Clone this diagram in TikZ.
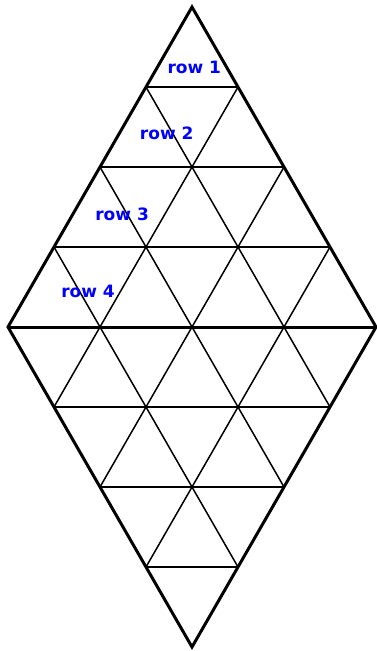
\documentclass[tikz,border=0pt]{standalone}
\usepackage{fontspec}
\usepackage{tikz}
\newfontfamily\labelfont{DejaVu Sans}

\begin{document}
\begin{tikzpicture}[x=46pt, y=80pt,
  outline/.style={line width=3pt, line join=miter},
  gridline/.style={line width=1.5pt},
  rowlabel/.style={font=\labelfont\bfseries\fontsize{17}{17}\selectfont, text=blue, inner sep=0pt}]
\useasboundingbox (-192pt,-324pt) rectangle (184pt,327pt);
% x = one half triangle side, y = one row height; origin at the middle of the long diagonal
\coordinate (top) at (0,4);
\coordinate (left) at (-4,0);
\coordinate (right) at (4,0);
\coordinate (bottom) at (0,-4);
\foreach \k in {1,2,3}{%
  \draw[gridline] (-\k,4-\k) -- (\k,4-\k);
  \draw[gridline] (-\k,\k-4) -- (\k,\k-4);
  \draw[gridline] (-4+\k,\k) -- (\k,\k-4);
  \draw[gridline] (4-\k,\k) -- (-\k,\k-4);}
\draw[outline] (left) -- (right);
\draw[outline] (top) -- (right) -- (bottom) -- (left) -- cycle;
\node[rowlabel] (row1) at (0.05,3.25) {row 1};
\node[rowlabel] (row2) at (-0.55,2.42) {row 2};
\node[rowlabel] (row3) at (-1.52,1.41) {row 3};
\node[rowlabel] (row4) at (-2.26,0.45) {row 4};
\end{tikzpicture}
\end{document}
